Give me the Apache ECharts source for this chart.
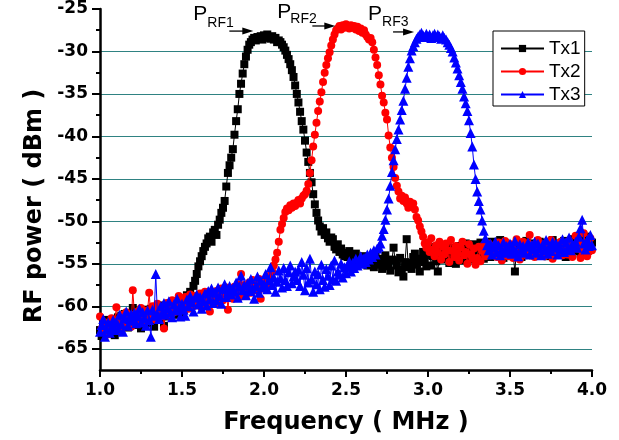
<!DOCTYPE html>
<html>
<head>
<meta charset="utf-8">
<script src="https://cdn.jsdelivr.net/npm/echarts@6/dist/echarts.min.js"></script>
<style>html,body{margin:0;padding:0;background:#fff;}#c{width:619px;height:440px;}</style>
</head>
<body>
<div id="c"></div>
<script>
// Frequency grid (MHz): 1.00 .. 4.00, step 0.01
const FREQ_START = 1.0;
const FREQ_STEP = 0.01;

const TX1 = [
-62.8,-63.5,-62.1,-61.6,-62.9,-63.2,-61.8,-62.4,-61.5,-63.4,
-62.0,-61.3,-62.7,-61.1,-62.3,-60.9,-61.8,-62.5,-60.8,-61.4,
-60.2,-61.6,-62.2,-60.7,-61.1,-62.6,-60.5,-61.3,-62.0,-60.4,
-61.2,-60.3,-61.9,-62.4,-60.6,-61.0,-59.9,-61.5,-60.2,-62.3,
-60.8,-59.7,-61.2,-60.1,-60.6,-59.4,-61.0,-60.3,-59.8,-60.9,
-59.6,-60.4,-59.2,-58.7,-59.8,-58.3,-58.9,-57.6,-57.0,-56.2,
-55.3,-54.7,-54.1,-53.5,-53.0,-52.6,-52.0,-51.8,-52.4,-51.3,
-51.0,-51.6,-50.4,-49.8,-49.0,-48.4,-47.6,-45.9,-44.3,-43.4,
-42.5,-41.5,-39.8,-38.2,-36.8,-35.0,-33.8,-32.6,-31.5,-30.6,
-29.8,-29.2,-28.9,-28.6,-28.4,-28.7,-28.3,-28.5,-28.2,-28.6,
-28.1,-28.4,-28.0,-28.3,-28.5,-28.2,-28.6,-28.4,-28.9,-28.7,
-28.9,-29.2,-29.5,-29.9,-30.4,-30.9,-31.5,-32.2,-33.0,-34.0,
-35.0,-36.0,-37.1,-38.2,-39.2,-40.5,-41.9,-43.0,-44.3,-45.4,
-46.8,-48.0,-49.0,-49.9,-50.6,-51.2,-50.8,-51.6,-51.3,-52.0,
-52.4,-51.9,-52.1,-53.0,-53.3,-52.7,-53.6,-53.2,-53.9,-54.1,
-53.7,-54.2,-53.5,-54.6,-54.0,-54.4,-53.8,-54.7,-54.3,-55.0,
-54.5,-54.1,-54.8,-55.2,-54.3,-54.9,-54.6,-55.4,-54.2,-54.8,
-55.1,-54.4,-55.6,-54.7,-54.0,-55.3,-54.9,-55.8,-54.5,-53.1,
-54.6,-55.2,-56.0,-54.3,-55.7,-56.5,-54.8,-52.1,-55.4,-54.9,
-55.6,-54.2,-53.8,-55.1,-54.6,-55.9,-54.4,-53.6,-54.8,-55.3,
-54.0,-53.4,-55.2,-54.1,-53.0,-54.7,-55.9,-53.8,-54.5,-53.2,
-54.3,-53.6,-52.8,-54.9,-53.5,-54.2,-53.1,-55.0,-53.7,-52.9,
-53.9,-54.6,-53.3,-52.6,-54.2,-53.0,-53.8,-54.5,-52.7,-53.4,
-54.1,-53.2,-52.5,-53.9,-54.4,-52.8,-53.6,-53.0,-54.2,-52.4,
-53.5,-52.9,-54.0,-53.3,-52.2,-53.8,-54.3,-52.6,-53.1,-53.9,
-52.8,-53.6,-54.1,-55.9,-53.0,-52.5,-53.7,-54.2,-52.9,-53.4,
-52.3,-53.8,-53.1,-52.6,-54.0,-53.4,-52.7,-53.9,-52.4,-53.2,
-53.7,-52.5,-53.3,-54.1,-52.8,-53.5,-52.2,-53.9,-53.0,-52.6,
-53.4,-52.9,-53.8,-52.3,-54.2,-53.1,-52.7,-53.6,-52.1,-53.3,
-52.6,-53.5,-52.0,-53.8,-52.9,-52.4,-53.2,-51.8,-52.7,-53.1,
-52.5
];

const TX2 = [
-61.2,-62.6,-63.0,-61.9,-62.4,-63.3,-62.0,-61.4,-62.8,-61.7,
-60.1,-62.3,-61.5,-62.9,-61.0,-62.2,-60.7,-61.8,-61.2,-62.4,
-58.1,-61.0,-62.1,-60.6,-61.5,-60.2,-61.9,-60.9,-61.3,-60.5,
-58.4,-61.4,-60.0,-60.8,-61.6,-59.7,-60.4,-61.2,-60.1,-62.6,
-60.3,-59.6,-61.1,-60.0,-59.3,-60.7,-59.9,-60.4,-58.8,-60.2,
-59.5,-60.1,-58.9,-59.7,-60.3,-58.6,-59.4,-60.0,-58.8,-59.6,
-59.1,-58.5,-60.2,-59.0,-58.3,-59.5,-58.7,-60.6,-59.2,-58.4,
-59.0,-58.2,-59.6,-58.8,-57.9,-59.3,-58.6,-57.8,-60.4,-58.5,
-58.3,-59.1,-57.7,-58.6,-57.4,-58.9,-56.2,-58.0,-57.5,-58.7,
-57.8,-57.2,-58.4,-56.9,-57.6,-58.1,-57.3,-56.8,-59.1,-57.5,
-57.9,-57.0,-57.6,-56.8,-56.3,-55.9,-55.2,-54.5,-53.7,-52.4,
-51.0,-50.3,-49.6,-48.9,-48.5,-48.7,-48.1,-48.4,-47.9,-48.2,
-47.8,-47.5,-47.9,-47.3,-47.0,-46.8,-46.4,-45.6,-44.3,-42.8,
-41.2,-39.8,-38.4,-37.0,-35.9,-34.8,-33.6,-32.5,-31.6,-30.8,
-30.1,-29.3,-28.6,-28.0,-27.5,-27.3,-27.0,-27.4,-26.9,-27.2,
-26.8,-27.1,-27.3,-26.9,-27.2,-27.0,-27.4,-27.1,-27.6,-27.3,
-27.8,-27.5,-28.0,-28.3,-28.6,-28.4,-28.9,-29.8,-30.7,-31.6,
-32.8,-33.9,-35.2,-36.0,-37.2,-38.0,-39.9,-41.3,-42.5,-43.6,
-44.9,-45.8,-46.5,-47.3,-47.0,-47.6,-47.2,-47.9,-48.4,-47.7,
-48.3,-47.9,-48.6,-49.5,-49.9,-50.6,-51.2,-51.8,-52.6,-53.1,
-52.5,-53.6,-52.0,-53.3,-54.1,-52.8,-53.7,-52.4,-54.5,-53.0,
-53.9,-52.6,-53.4,-54.8,-52.2,-53.5,-54.2,-52.9,-53.8,-54.6,
-53.1,-52.4,-54.0,-53.6,-55.0,-52.7,-53.9,-54.4,-53.2,-55.1,
-54.3,-53.0,-54.7,-53.5,-52.8,-54.1,-53.3,-52.6,-54.0,-53.4,
-52.9,-53.7,-54.2,-52.5,-53.4,-54.6,-53.0,-52.3,-53.8,-54.1,
-53.2,-52.7,-54.3,-53.6,-52.1,-53.9,-54.5,-53.0,-52.4,-53.7,
-54.0,-52.6,-51.6,-53.3,-52.8,-54.2,-53.5,-52.2,-53.9,-53.1,
-52.7,-54.1,-53.4,-52.5,-53.8,-52.2,-54.4,-53.0,-52.8,-53.6,
-53.3,-52.4,-54.0,-53.1,-52.6,-53.9,-52.3,-53.5,-54.2,-52.8,
-51.7,-53.2,-52.6,-54.3,-53.5,-51.4,-52.9,-54.1,-53.6,-52.0,
-53.4
];

const TX3 = [
-63.0,-62.2,-61.5,-63.6,-62.7,-61.9,-63.1,-62.4,-61.6,-62.8,
-61.9,-62.6,-61.0,-62.1,-63.0,-61.4,-60.6,-62.3,-61.5,-60.9,
-61.7,-60.8,-62.0,-61.2,-60.3,-61.9,-60.7,-61.4,-62.3,-60.5,
-61.6,-63.6,-60.4,-61.1,-56.2,-60.9,-61.5,-60.0,-60.8,-59.6,
-61.0,-60.2,-59.4,-60.7,-61.3,-59.8,-60.5,-59.1,-60.2,-61.2,
-59.7,-60.4,-61.1,-59.2,-60.0,-58.8,-59.5,-60.6,-59.0,-58.6,
-59.8,-58.9,-60.3,-59.4,-58.5,-59.9,-58.2,-59.2,-57.9,-59.6,
-58.4,-59.3,-57.8,-58.8,-59.7,-58.0,-57.4,-58.9,-58.3,-57.6,
-58.6,-57.9,-58.3,-57.2,-59.0,-57.7,-56.4,-58.1,-57.5,-58.7,
-57.3,-58.2,-56.8,-57.9,-59.1,-57.6,-56.5,-58.4,-57.0,-57.8,
-57.4,-56.2,-58.0,-56.9,-55.4,-57.5,-56.6,-58.3,-57.1,-55.8,
-56.7,-57.8,-55.5,-56.9,-57.6,-56.0,-55.2,-57.3,-56.5,-55.9,
-56.9,-55.7,-57.6,-54.8,-56.3,-58.1,-55.5,-57.2,-54.4,-56.8,
-58.3,-55.9,-57.4,-56.2,-58.0,-55.1,-56.9,-57.7,-55.6,-56.4,
-57.5,-55.2,-56.8,-54.6,-57.0,-55.9,-56.3,-55.0,-56.6,-55.4,
-56.1,-55.3,-54.7,-55.9,-54.9,-55.5,-54.4,-55.2,-54.6,-54.1,
-55.0,-54.3,-54.8,-53.9,-54.5,-53.7,-54.2,-53.4,-53.9,-53.2,
-53.0,-52.6,-51.7,-50.9,-49.8,-48.6,-47.3,-45.8,-44.2,-42.8,
-41.5,-40.3,-39.2,-38.0,-36.9,-35.8,-34.4,-33.1,-31.8,-30.8,
-29.9,-29.4,-28.9,-28.5,-28.2,-28.0,-27.8,-28.1,-28.3,-27.9,
-28.2,-28.0,-28.4,-28.1,-27.9,-28.3,-28.0,-28.2,-28.5,-28.1,
-28.4,-28.6,-28.9,-29.2,-29.6,-30.0,-30.7,-31.3,-32.0,-32.8,
-33.6,-34.4,-35.3,-36.1,-37.0,-38.1,-39.6,-41.2,-43.3,-45.0,
-46.5,-47.6,-48.6,-49.9,-51.1,-52.0,-52.8,-53.4,-52.6,-53.9,
-53.1,-52.4,-53.6,-52.8,-54.0,-53.3,-52.5,-53.7,-52.9,-53.5,
-52.6,-53.8,-53.2,-52.3,-53.6,-54.1,-52.7,-53.4,-52.9,-53.7,
-53.0,-52.5,-53.9,-52.8,-53.3,-52.4,-53.7,-52.6,-53.2,-54.0,
-52.7,-53.4,-52.2,-53.8,-52.9,-53.5,-52.4,-53.1,-52.6,-53.9,
-52.8,-53.3,-52.1,-53.6,-52.5,-53.2,-51.9,-53.4,-52.7,-53.0,
-52.4,-53.1,-51.8,-50.8,-49.8,-52.6,-53.3,-52.2,-52.9,-51.6,
-52.8
];

const SERIES_NAMES = ['Tx1', 'Tx2', 'Tx3'];
const Y_MAJOR_TICKS = [-65, -60, -55, -50, -45, -40, -35, -30, -25];
const Y_MINOR_TICKS = [-62.5, -57.5, -52.5, -47.5, -42.5, -37.5, -32.5, -27.5];

// Annotation anchors (arrow tips, in data units)
const ANNOT_SUBS = ['RF1', 'RF2', 'RF3'];
const ANNOT_TIP_FREQ = [1.935, 2.435, 2.915];
const ANNOT_TIP_POWER = [-27.6, -27.0, -27.7];

const freqs = TX1.map((_, i) => +(FREQ_START + i * FREQ_STEP).toFixed(2));
const pairs = arr => arr.map((v, i) => [freqs[i], v]);

const chart = echarts.init(document.getElementById('c'), null, {renderer: 'canvas'});
const TICK_FONT = {fontFamily: 'DejaVu Sans', fontWeight: 'bold', fontSize: 17, color: '#000'};
const GRID_COLOR = '#2f8282';

chart.setOption({
  animation: false,
  backgroundColor: '#fff',
  grid: {left: 100, right: 27, top: 9, bottom: 69, containLabel: false},
  legend: {
    data: SERIES_NAMES,
    orient: 'vertical',
    left: 493, top: 31,
    borderColor: '#000', borderWidth: 1, backgroundColor: '#fff',
    padding: [8, 4, 2, 7],
    itemWidth: 43, itemHeight: 9, itemGap: 4,
    textStyle: {fontFamily: 'Liberation Sans', fontSize: 19, color: '#000'}
  },
  xAxis: {
    type: 'value', min: 1, max: 4, interval: 0.5,
    name: 'Frequency ( MHz )', nameLocation: 'middle', nameGap: 41,
    nameTextStyle: {fontFamily: 'DejaVu Sans', fontWeight: 'bold', fontSize: 24, color: '#000'},
    axisLine: {show: true, lineStyle: {color: '#000', width: 2.5}},
    axisTick: {show: true, inside: false, length: 7, lineStyle: {color: '#000', width: 2}},
    minorTick: {show: true, splitNumber: 2, length: 4, lineStyle: {color: '#000', width: 2}},
    axisLabel: Object.assign({margin: 12, formatter: v => v.toFixed(1)}, TICK_FONT),
    splitLine: {show: false}
  },
  yAxis: [{
    type: 'value', min: -67.5, max: -25, interval: 2.5, position: 'left',
    name: 'RF power ( dBm )', nameLocation: 'middle', nameGap: 52, nameRotate: 90,
    nameTextStyle: {fontFamily: 'DejaVu Sans', fontWeight: 'bold', fontSize: 24, color: '#000', padding: [0, 33, 0, 0]},
    axisLine: {show: true, onZero: false, lineStyle: {color: '#000', width: 2.5}},
    axisTick: {show: true, inside: false, length: 8, customValues: Y_MAJOR_TICKS, lineStyle: {color: '#000', width: 2}},
    axisLabel: Object.assign({margin: 12, customValues: Y_MAJOR_TICKS, formatter: v => String(v)}, TICK_FONT),
    splitLine: {show: true, showMaxLine: false, lineStyle: {color: GRID_COLOR, width: 1}}
  }, {
    type: 'value', min: -67.5, max: -25, interval: 2.5, position: 'left', offset: 0,
    axisLine: {show: false},
    axisTick: {show: true, inside: false, length: 4, customValues: Y_MINOR_TICKS, lineStyle: {color: '#000', width: 2}},
    axisLabel: {show: false},
    splitLine: {show: false}
  }],
  series: [
    {name: 'Tx1', type: 'line', data: pairs(TX1), symbol: 'rect', symbolSize: 8,
     lineStyle: {color: '#000', width: 1}, itemStyle: {color: '#000'}, z: 2},
    {name: 'Tx2', type: 'line', data: pairs(TX2), symbol: 'circle', symbolSize: 8,
     lineStyle: {color: '#ff0000', width: 1}, itemStyle: {color: '#ff0000'}, z: 3},
    {name: 'Tx3', type: 'line', data: pairs(TX3), symbol: 'triangle', symbolSize: 10,
     lineStyle: {color: '#0000ff', width: 1}, itemStyle: {color: '#0000ff'}, z: 4}
  ]
});

// Annotations P_RFn with arrows, anchored to data coordinates (pixel offsets from the tip)
const P_DX = [-60, -58, -46], P_DY = [-16.5, -14, -18];
const SUB_DX = [-46, -45, -32], SUB_DY = [-7.5, -6.5, -9.5];
const TAIL_DX = [-24, -23, -21];
const graphics = [];
ANNOT_SUBS.forEach((sub, i) => {
  const tip = chart.convertToPixel({gridIndex: 0}, [ANNOT_TIP_FREQ[i], ANNOT_TIP_POWER[i]]);
  const tx = tip[0], ty = tip[1];
  graphics.push({type: 'text', z: 100, x: tx + P_DX[i], y: ty + P_DY[i],
    style: {text: 'P', fontFamily: 'Liberation Sans', fontSize: 21, fill: '#000', verticalAlign: 'middle', align: 'left'}});
  graphics.push({type: 'text', z: 100, x: tx + SUB_DX[i], y: ty + SUB_DY[i],
    style: {text: sub, fontFamily: 'Liberation Sans', fontSize: 14, fill: '#000', verticalAlign: 'middle', align: 'left'}});
  graphics.push({type: 'line', z: 100, shape: {x1: tx + TAIL_DX[i], y1: ty, x2: tx - 9, y2: ty},
    style: {stroke: '#000', lineWidth: 1.3}});
  graphics.push({type: 'polygon', z: 100, shape: {points: [[tx - 11, ty - 3.5], [tx, ty], [tx - 11, ty + 3.5]]},
    style: {fill: '#000'}});
});
chart.setOption({graphic: graphics});
</script>
</body>
</html>
